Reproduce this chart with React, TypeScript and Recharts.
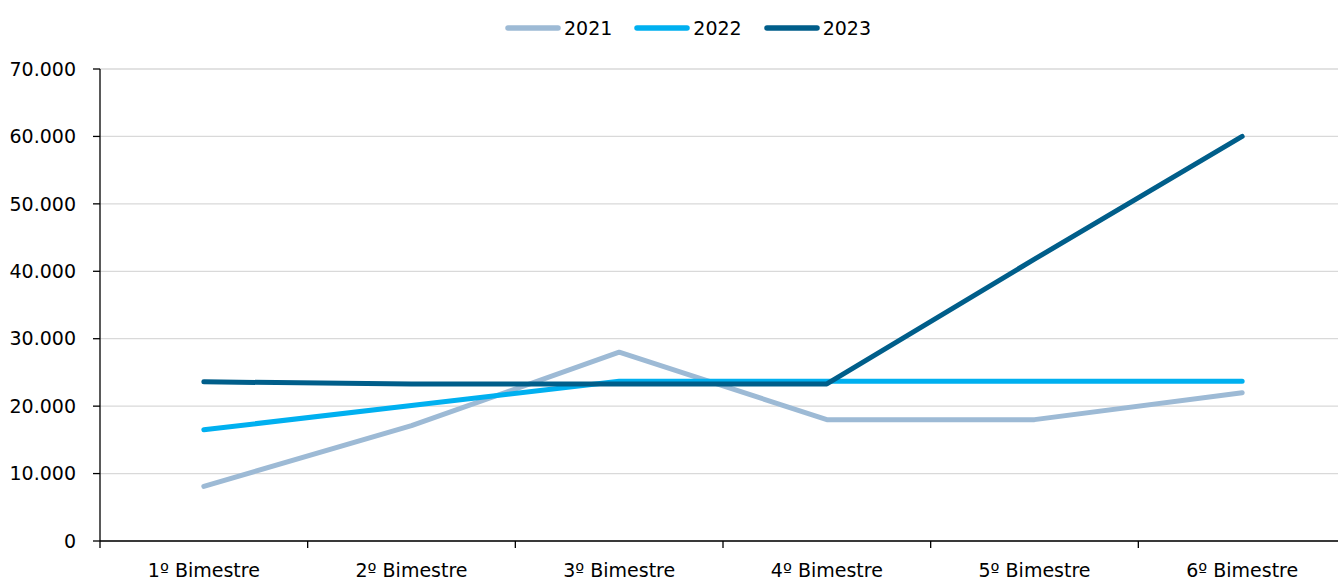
import { LineChart, Line, XAxis, YAxis, CartesianGrid, Legend } from "recharts";

const CATEGORIES = ["1º Bimestre", "2º Bimestre", "3º Bimestre", "4º Bimestre", "5º Bimestre", "6º Bimestre"];
const S2021 = [8100, 17100, 28000, 18000, 18000, 22000];
const S2022 = [16500, 20100, 23700, 23700, 23700, 23700];
const S2023 = [23600, 23300, 23300, 23300, 41800, 60000];
const Y_TICKS = [0, 10000, 20000, 30000, 40000, 50000, 60000, 70000];

const SERIES = [
  { key: "2021", color: "#9DBAD5" },
  { key: "2022", color: "#00B0F0" },
  { key: "2023", color: "#005E8A" },
];

const data = CATEGORIES.map((name, i) => ({
  name,
  "2021": S2021[i],
  "2022": S2022[i],
  "2023": S2023[i],
}));

const FONT = "'DejaVu Sans', sans-serif";

const fmt = (v: number) => String(v).replace(/\B(?=(\d{3})+(?!\d))/g, ".");

function XTick(props: any) {
  const { x, y, payload } = props;
  const off = payload.offset || 0;
  return (
    <g>
      <line x1={x - off} x2={x - off} y1={y - 8} y2={y - 1} stroke="#000" strokeWidth={1.3} />
      <text x={x} y={y + 28} textAnchor="middle" fontSize={19} fontFamily={FONT} fill="#000">
        {payload.value}
      </text>
    </g>
  );
}

function LegendContent({ payload }: any) {
  return (
    <div style={{ display: "flex", justifyContent: "center", paddingLeft: 30, fontFamily: FONT, fontSize: 19 }}>
      {(payload || []).map((p: any) => (
        <div key={p.value} style={{ display: "flex", alignItems: "center", margin: "0 11px" }}>
          <svg width={56} height={10} style={{ marginRight: 3 }}>
            <line x1={3} x2={53} y1={5} y2={5} stroke={p.color} strokeWidth={5.5} strokeLinecap="round" />
          </svg>
          <span style={{ color: "#000" }}>{p.value}</span>
        </div>
      ))}
    </div>
  );
}

export default function App() {
  return (
    <div style={{ position: "absolute", left: 0, top: 0, width: 1338, height: 580, overflow: "hidden", background: "#fff" }}>
      <LineChart width={1350} height={580} data={data} margin={{ top: 47, right: 4, left: 0, bottom: 0 }}>
        <CartesianGrid vertical={false} stroke="#D9D9D9" strokeWidth={1.3} />
        <XAxis
          dataKey="name"
          scale="band"
          height={39}
          axisLine={{ stroke: "#000", strokeWidth: 1.3 }}
          tickLine={false}
          tick={<XTick />}
          interval={0}
        />
        <YAxis
          width={100}
          domain={[0, 70000]}
          ticks={Y_TICKS}
          tickFormatter={fmt}
          axisLine={{ stroke: "#000", strokeWidth: 1.3 }}
          tickLine={{ stroke: "#000", strokeWidth: 1.3 }}
          tickSize={7}
          tickMargin={17}
          tick={{ fontSize: 19, fontFamily: FONT, fill: "#000" }}
        />
        <Legend verticalAlign="top" wrapperStyle={{ top: 17 }} content={<LegendContent />} />
        {SERIES.map((s) => (
          <Line
            key={s.key}
            type="linear"
            dataKey={s.key}
            stroke={s.color}
            strokeWidth={5}
            strokeLinecap="round"
            strokeLinejoin="round"
            dot={false}
            activeDot={false}
            isAnimationActive={false}
          />
        ))}
      </LineChart>
    </div>
  );
}
